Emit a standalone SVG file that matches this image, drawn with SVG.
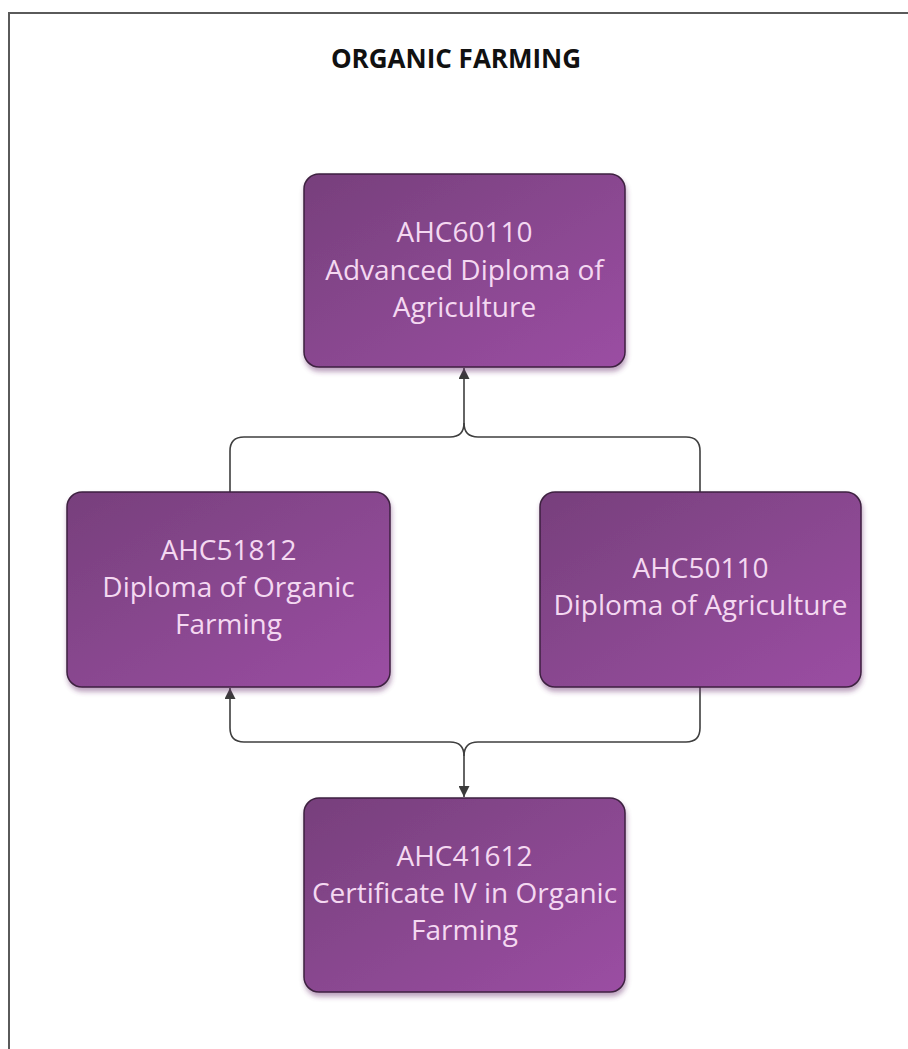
<svg xmlns="http://www.w3.org/2000/svg" width="908" height="1049" viewBox="0 0 908 1049">
<defs>
<linearGradient id="g" x1="0" y1="0" x2="1" y2="1">
<stop offset="0" stop-color="#77407c"/>
<stop offset="1" stop-color="#9b4ea3"/>
</linearGradient>
<filter id="sh" x="-10%" y="-10%" width="120%" height="125%">
<feGaussianBlur in="SourceAlpha" stdDeviation="2.5"/>
<feOffset dx="1" dy="4" result="b"/>
<feFlood flood-color="#6a2f6e" flood-opacity="0.45"/>
<feComposite in2="b" operator="in"/>
<feMerge><feMergeNode/><feMergeNode in="SourceGraphic"/></feMerge>
</filter>
<marker id="ah" viewBox="0 0 10 10" refX="10" refY="5" markerWidth="11" markerHeight="11" markerUnits="userSpaceOnUse" orient="auto">
<path d="M0,0 L10,5 L0,10 Z" fill="#3b3b3b"/>
</marker>
<style>
.box{fill:url(#g);stroke:#3e2140;stroke-width:1.5;filter:url(#sh)}
.lbl{font-family:"Open Sans","Liberation Sans",sans-serif;font-size:28px;fill:#f4d8f1;text-anchor:middle}
.con{fill:none;stroke:#3f3f3f;stroke-width:1.6}
.title{font-family:"Open Sans","Liberation Sans",sans-serif;font-size:26px;font-weight:bold;fill:#111;text-anchor:middle}
</style>
</defs>
<rect width="908" height="1049" fill="#ffffff"/>
<path d="M9,1049 V13 H908" fill="none" stroke="#5a5a5a" stroke-width="2"/>
<text class="title" x="456" y="68">ORGANIC FARMING</text>
<g id="connectors">
<path class="con" d="M230,492 V451 Q230,437 244,437 H450 Q464,437 464,423 V368" marker-end="url(#ah)"/>
<path class="con" d="M700,492 V451 Q700,437 686,437 H478 Q464,437 464,423"/>
<path class="con" d="M700,687 V728 Q700,742 686,742 H478 Q464,742 464,756 V797" marker-end="url(#ah)"/>
<path class="con" d="M464,756 Q464,742 450,742 H244 Q230,742 230,728 V688" marker-end="url(#ah)"/>
</g>
<g id="n1">
<rect class="box" x="304" y="174" width="321" height="193" rx="15"/>
<text class="lbl" x="464.5" y="242">AHC60110</text>
<text class="lbl" x="464.5" y="280">Advanced Diploma of</text>
<text class="lbl" x="464.5" y="317">Agriculture</text>
</g>
<g id="n2">
<rect class="box" x="67" y="492" width="323" height="195" rx="15"/>
<text class="lbl" x="228.5" y="560">AHC51812</text>
<text class="lbl" x="228.5" y="597">Diploma of Organic</text>
<text class="lbl" x="228.5" y="634">Farming</text>
</g>
<g id="n3">
<rect class="box" x="540" y="492" width="321" height="195" rx="15"/>
<text class="lbl" x="700.5" y="578">AHC50110</text>
<text class="lbl" x="700.5" y="615">Diploma of Agriculture</text>
</g>
<g id="n4">
<rect class="box" x="304" y="798" width="321" height="194" rx="15"/>
<text class="lbl" x="464.5" y="866">AHC41612</text>
<text class="lbl" x="464.5" y="903">Certificate IV in Organic</text>
<text class="lbl" x="464.5" y="940">Farming</text>
</g>
</svg>
